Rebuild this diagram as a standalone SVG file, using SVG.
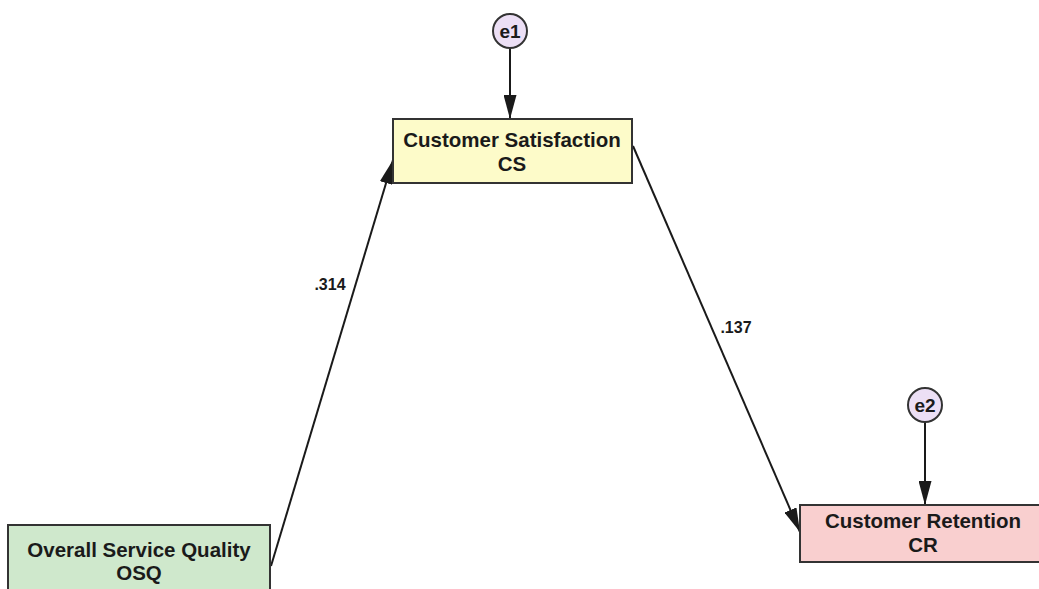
<svg xmlns="http://www.w3.org/2000/svg" width="1039" height="589" viewBox="0 0 1039 589">
  <style>
    .box { stroke: #333; stroke-width: 2; }
    .lbl { font-family: "Liberation Sans", Arial, sans-serif; font-weight: bold; font-size: 20.5px; fill: #1a1a1a; text-anchor: middle; }
    .err { fill: #ecdff5; stroke: #333; stroke-width: 2; }
    .errtxt { font-family: "Liberation Sans", Arial, sans-serif; font-weight: bold; font-size: 19px; fill: #1a1a1a; text-anchor: middle; }
    .coef { font-family: "Liberation Sans", Arial, sans-serif; font-weight: bold; font-size: 16px; fill: #1a1a1a; text-anchor: middle; }
    .path { stroke: #1a1a1a; stroke-width: 2; fill: none; marker-end: url(#head); }
  </style>
  <defs>
    <marker id="head" markerWidth="24" markerHeight="13" refX="24" refY="6.5" viewBox="0 0 24 13" orient="auto" markerUnits="userSpaceOnUse">
      <path d="M0,0 L24,6.5 L0,13 Z" fill="#1a1a1a"/>
    </marker>
  </defs>
  <rect width="1039" height="589" fill="#ffffff"/>

  <g id="connectors">
    <line class="path" x1="510" y1="48" x2="510" y2="119"/>
    <line class="path" x1="925" y1="422" x2="925" y2="505"/>
    <line class="path" x1="271" y1="566" x2="393" y2="160"/>
    <line class="path" x1="633" y1="146" x2="800" y2="532"/>
    <text class="coef" x="330" y="290">.314</text>
    <text class="coef" x="736" y="333">.137</text>
  </g>

  <g id="e1">
    <circle class="err" cx="510" cy="31" r="17"/>
    <text class="errtxt" x="510" y="38">e1</text>
  </g>

  <g id="e2">
    <circle class="err" cx="925" cy="405" r="17"/>
    <text class="errtxt" x="925" y="412">e2</text>
  </g>

  <g id="cs">
    <rect class="box" x="393" y="119" width="239" height="64" fill="#fdfbc9"/>
    <text class="lbl" x="512" y="147">Customer Satisfaction</text>
    <text class="lbl" x="512" y="171">CS</text>
  </g>

  <g id="osq">
    <rect class="box" x="8" y="525" width="262" height="70" fill="#cfe8cc"/>
    <text class="lbl" x="139" y="557">Overall Service Quality</text>
    <text class="lbl" x="139" y="580">OSQ</text>
  </g>

  <g id="cr">
    <rect class="box" x="800" y="505" width="240" height="57" fill="#f9cfcf"/>
    <text class="lbl" x="923" y="528">Customer Retention</text>
    <text class="lbl" x="923" y="552">CR</text>
  </g>
</svg>
